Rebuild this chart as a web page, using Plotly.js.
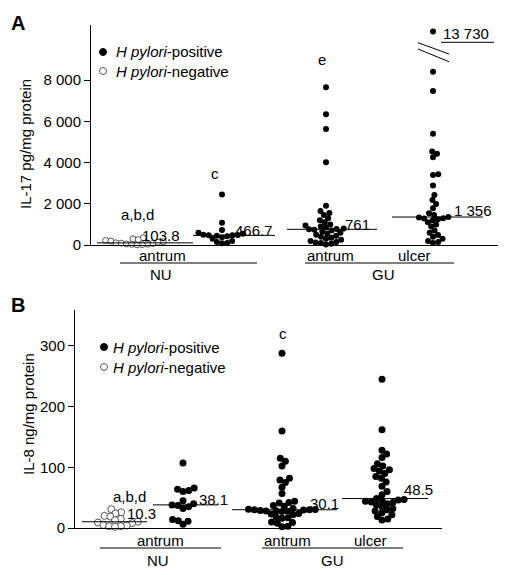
<!DOCTYPE html>
<html>
<head>
<meta charset="utf-8">
<script src="https://cdn.plot.ly/plotly-3.0.1.min.js"></script>
<style>html,body{margin:0;padding:0;background:#fff;}#chart{width:509px;height:575px;}</style>
</head>
<body>
<div id="chart"></div>
<script>
// ---------------- DATA ----------------
// Panel A: IL-17 (pg/mg protein)
const groupNames = ["NU antrum, H pylori-negative", "NU antrum, H pylori-positive", "GU antrum", "GU ulcer"];
const il17_NU_neg = [350, 300, 260, 220, 190, 160, 130, 104, 90, 70, 50, 40, 30, 20, 10];
const il17_NU_pos = [2450, 1080, 730, 600, 540, 500, 480, 470, 467, 450, 430, 380, 300, 200, 150, 100, 80];
const il17_GU_antrum = [7650, 6340, 5620, 4010, 1900, 1650, 1550, 1450, 1300, 1200, 1100, 1000, 950, 900, 850, 800, 780, 761, 740, 700, 650, 600, 550, 500, 450, 400, 350, 300, 250, 200, 150, 120, 100, 60, 30];
const il17_GU_ulcer = [13730, 8400, 7470, 5400, 4530, 4420, 4250, 3430, 3400, 2890, 2420, 2180, 1990, 1780, 1540, 1450, 1356, 1330, 1300, 1280, 1250, 1200, 1100, 1000, 900, 700, 600, 480, 400, 300, 200, 150, 100];
const il17_medians = [103.8, 466.7, 761, 1356];
const il17_medianLabels = ["103.8", "466.7", "761", "1 356"];
const il17_tickVals = [0, 2000, 4000, 6000, 8000];
const il17_tickText = ["0", "2 000", "4 000", "6 000", "8 000"];
const il17_outlierLabel = "13 730";
const il17_letters = ["a,b,d", "c", "e"];

// Panel B: IL-8 (ng/mg protein)
const il8_NU_neg = [31, 26, 24, 20, 19, 15, 13, 10.3, 9, 8, 5, 4, 3, 3, 2];
const il8_NU_pos = [107, 66, 64, 62, 60, 45, 40, 38.1, 37, 35, 32, 14, 12, 11, 6];
const il8_GU_antrum = [288, 160, 115, 110, 102, 82, 79, 75, 67, 57, 44, 42, 41, 37, 36, 32, 31, 30.5, 30.1, 30, 29.5, 29, 28.5, 28, 27.5, 27, 24, 23, 22, 18, 17, 16, 10, 9, 8, 3, 2];
const il8_GU_ulcer = [245, 162, 128, 122, 116, 106, 102, 98, 96, 94, 90, 85, 82, 76, 69, 60, 55, 48.5, 47, 46, 45, 44, 43, 42, 40, 38, 35, 32, 30, 28, 25, 22, 19, 15, 13];
const il8_medians = [10.3, 38.1, 30.1, 48.5];
const il8_medianLabels = ["10.3", "38.1", "30.1", "48.5"];
const il8_tickVals = [0, 100, 200, 300];
const il8_tickText = ["0", "100", "200", "300"];
const il8_letters = ["a,b,d", "c"];

const siteLabels = ["antrum", "antrum", "ulcer"];
const groupLabels = ["NU", "GU"];
const legendNames = ["<i>H pylori</i>-positive", "<i>H pylori</i>-negative"];

// ---------------- LAYOUT GEOMETRY (pixels) ----------------
const W = 509, H = 575;
const FONT = "Liberation Sans, Arial, sans-serif";
const px = x => x / W;
const py = y => 1 - y / H;

const A = {xl: 91, xr: 498, yb: 245, yt: 25, top: 10667, centers: [137, 222, 326, 433], d: 5.3, ms: 6};
const B = {xl: 75, xr: 442, yb: 528, yt: 310, top: 359.3, centers: [115, 183, 282, 382], d: 5.9, ms: 7};
const breakAt = 10000, breakShown = 10350; // broken-axis display for the extreme value

function yPix(P, v) { return P.yb - v / P.top * (P.yb - P.yt); }

function swarmX(vals, cx, ypix, d) {
  const idx = vals.map((v, i) => i).sort((a, b) => vals[a] - vals[b]);
  const placed = [], xs = new Array(vals.length);
  for (const i of idx) {
    const y = ypix(vals[i]);
    const cands = [cx];
    for (const p of placed) {
      const dy = Math.abs(p.y - y);
      if (dy < d) { const dx = Math.sqrt(d * d - dy * dy); cands.push(p.x + dx, p.x - dx); }
    }
    cands.sort((a, b) => Math.abs(a - cx) - Math.abs(b - cx));
    let best = cx;
    for (const c of cands) {
      if (placed.every(p => (p.x - c) ** 2 + (p.y - y) ** 2 >= d * d - 0.01)) { best = c; break; }
    }
    placed.push({x: best, y: y});
    xs[i] = best;
  }
  return xs;
}

const traces = [];
function addGroup(P, vals, gi, xa, ya, open, name, display) {
  const shown = vals.map(display || (v => v));
  const xs = swarmX(shown, P.centers[gi], v => yPix(P, v), P.d);
  traces.push({
    type: "scatter", mode: "markers", x: xs, y: shown, xaxis: xa, yaxis: ya,
    name: name, showlegend: false, cliponaxis: false,
    customdata: vals, hovertemplate: "%{customdata}<extra>" + name + "</extra>",
    marker: open ? {size: P.ms, color: "#ffffff", line: {color: "#555", width: 1}}
                 : {size: P.ms, color: "#000000", line: {width: 0}}
  });
}
const dispA = v => (v > breakAt ? breakShown : v);
addGroup(A, il17_NU_neg, 0, "x", "y", true, groupNames[0], dispA);
addGroup(A, il17_NU_pos, 1, "x", "y", false, groupNames[1], dispA);
addGroup(A, il17_GU_antrum, 2, "x", "y", false, groupNames[2], dispA);
addGroup(A, il17_GU_ulcer, 3, "x", "y", false, groupNames[3], dispA);
addGroup(B, il8_NU_neg, 0, "x2", "y2", true, groupNames[0]);
addGroup(B, il8_NU_pos, 1, "x2", "y2", false, groupNames[1]);
addGroup(B, il8_GU_antrum, 2, "x2", "y2", false, groupNames[2]);
addGroup(B, il8_GU_ulcer, 3, "x2", "y2", false, groupNames[3]);

// ---------------- SHAPES & ANNOTATIONS ----------------
const shapes = [], ann = [];
const line = (x0, y0, x1, y1, w) => shapes.push({type: "line", xref: "paper", yref: "paper", x0: px(x0), y0: py(y0), x1: px(x1), y1: py(y1), line: {color: "#000", width: w || 1}});
const text = (t, x, y, opt) => ann.push(Object.assign({text: t, xref: "paper", yref: "paper", x: px(x), y: py(y), showarrow: false, xanchor: "center", yanchor: "middle", font: {family: FONT, size: 15, color: "#000"}}, opt || {}));

// median lines (drawn at the median values through the axes)
const medSpanA = [[97, 193], [193, 275], [287, 377], [392, 483]];
const medSpanB = [[82, 147], [153, 218], [232, 337], [342, 428]];
il17_medians.forEach((m, i) => shapes.push({type: "line", xref: "x", yref: "y", x0: medSpanA[i][0], x1: medSpanA[i][1], y0: m, y1: m, line: {color: "#000", width: 1}}));
il8_medians.forEach((m, i) => shapes.push({type: "line", xref: "x2", yref: "y2", x0: medSpanB[i][0], x1: medSpanB[i][1], y0: m, y1: m, line: {color: "#000", width: 1}}));
const medLabA = [[140, 236], [233, 230], [343, 225], [452, 211]];
const medLabB = [[125, 513], [197, 499], [308, 503], [402, 489]];
il17_medianLabels.forEach((t, i) => text(t, medLabA[i][0], medLabA[i][1], {xanchor: "left"}));
il8_medianLabels.forEach((t, i) => text(t, medLabB[i][0], medLabB[i][1], {xanchor: "left"}));

// outlier label + broken axis marks
text(il17_outlierLabel, 441, 33, {xanchor: "left"});
line(441, 42.3, 494, 42.3);
line(418, 42.7, 449, 54);
line(418, 49, 449, 61.7);

// significance letters
text(il17_letters[0], 137, 214);
text(il17_letters[1], 215, 174);
text(il17_letters[2], 322, 60);
text(il8_letters[0], 129, 496);
text(il8_letters[1], 283, 333);

// category labels
text(siteLabels[0], 162, 256); line(120, 263, 257, 263); text(groupLabels[0], 161, 274);
text(siteLabels[1], 330, 256); text(siteLabels[2], 414, 256); line(305, 263, 454, 263); text(groupLabels[1], 383, 274);
text(siteLabels[0], 160, 540); line(100, 548, 221, 548); text(groupLabels[0], 158, 560);
text(siteLabels[1], 287, 540); text(siteLabels[2], 370, 540); line(262, 548, 403, 548); text(groupLabels[1], 332, 560);

// axis titles
text("IL-17 pg/mg protein", 25, 144, {textangle: -90});
text("IL-8 ng/mg protein", 28, 414, {textangle: -90});

// panel letters
text("<b>A</b>", 18, 23, {font: {family: FONT, size: 20, color: "#000"}});
text("<b>B</b>", 18, 305, {font: {family: FONT, size: 20, color: "#000"}});

// legends
function legend(sx, sy, tx, gap) {
  const r = 3.5;
  shapes.push({type: "circle", xref: "paper", yref: "paper", x0: px(sx - r), x1: px(sx + r), y0: py(sy - r), y1: py(sy + r), fillcolor: "#000", line: {color: "#000", width: 1}});
  shapes.push({type: "circle", xref: "paper", yref: "paper", x0: px(sx - r), x1: px(sx + r), y0: py(sy + gap - r), y1: py(sy + gap + r), fillcolor: "#fff", line: {color: "#555", width: 1}});
  text(legendNames[0], tx, sy, {xanchor: "left"});
  text(legendNames[1], tx, sy + gap, {xanchor: "left"});
}
legend(103, 52, 114, 19);
legend(104, 347, 111, 20);

// ---------------- AXES ----------------
const axBase = {showgrid: false, zeroline: false, showline: true, linecolor: "#000", linewidth: 1, fixedrange: true};
const layout = {
  width: W, height: H, margin: {l: 0, r: 0, t: 0, b: 0},
  paper_bgcolor: "#fff", plot_bgcolor: "#fff", showlegend: false,
  font: {family: FONT, size: 15, color: "#000"},
  xaxis: Object.assign({}, axBase, {domain: [px(A.xl), px(A.xr)], range: [A.xl, A.xr], showticklabels: false, ticks: "", anchor: "y"}),
  yaxis: Object.assign({}, axBase, {domain: [py(A.yb), py(A.yt)], range: [0, A.top], anchor: "x", ticks: "outside", ticklen: 6, tickcolor: "#000",
    tickvals: il17_tickVals, ticktext: il17_tickText, tickfont: {family: FONT, size: 15, color: "#000"}}),
  xaxis2: Object.assign({}, axBase, {domain: [px(B.xl), px(B.xr)], range: [B.xl, B.xr], showticklabels: false, ticks: "", anchor: "y2"}),
  yaxis2: Object.assign({}, axBase, {domain: [py(B.yb), py(B.yt)], range: [0, B.top], anchor: "x2", ticks: "outside", ticklen: 6, tickcolor: "#000",
    tickvals: il8_tickVals, ticktext: il8_tickText, tickfont: {family: FONT, size: 15, color: "#000"}}),
  shapes: shapes, annotations: ann
};
Plotly.newPlot("chart", traces, layout, {displayModeBar: false, staticPlot: true});
</script>
</body>
</html>
